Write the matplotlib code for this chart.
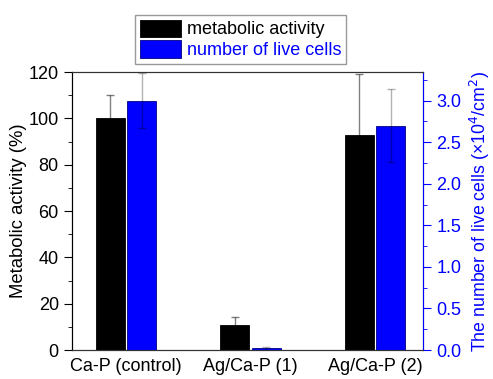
import numpy as np
import matplotlib
matplotlib.use('Agg')
from matplotlib import pyplot as plt
from matplotlib.ticker import MultipleLocator, FormatStrFormatter

plt.rcParams['font.family'] = ['Liberation Sans', 'DejaVu Sans']
plt.rcParams['font.size'] = 13

categories = ['Ca-P (control)', 'Ag/Ca-P (1)', 'Ag/Ca-P (2)']
activity = [100, 11, 93]
activity_err = [10, 3.3, 26]
live_cells = [3.0, 0.02, 2.7]
live_cells_err = [0.33, 0.02, 0.44]

x = np.arange(len(categories))
w = 0.233

fig = plt.figure(figsize=(4.93, 3.79), dpi=100)
ax = fig.add_axes([0.146, 0.0765, 0.712, 0.7335])
ax2 = ax.twinx()

b1 = ax.bar(x - 0.125, activity, w, color='black', edgecolor='black', linewidth=0.6,
            yerr=activity_err, error_kw=dict(ecolor=(0, 0, 0, 0.5), elinewidth=1, capsize=2.6, capthick=1))
b2 = ax2.bar(x + 0.125, live_cells, w, color='#0000ff', edgecolor='#000080', linewidth=0.6,
             yerr=live_cells_err, error_kw=dict(ecolor=(0, 0, 0, 0.3), elinewidth=1, capsize=2.6, capthick=1))

ax.set_xlim(-0.434, 2.386)
ax.set_ylim(0, 120)
ax2.set_ylim(0, 3.345)

ax.set_xticks(x)
ax.set_xticklabels(categories)
ax.tick_params(axis='x', length=0, pad=6)
ax.yaxis.set_major_locator(MultipleLocator(20))
ax.yaxis.set_minor_locator(MultipleLocator(10))
ax.tick_params(axis='y', which='major', length=6, direction='out')
ax.tick_params(axis='y', which='minor', length=3, direction='out')
ax.set_ylabel('Metabolic activity (%)', fontsize=13.3, labelpad=1)

ax2.yaxis.set_major_locator(MultipleLocator(0.5))
ax2.yaxis.set_minor_locator(MultipleLocator(0.25))
ax2.yaxis.set_major_formatter(FormatStrFormatter('%.1f'))
ax2.tick_params(axis='y', which='major', length=6, colors='#0000ff')
ax2.tick_params(axis='y', which='minor', length=3, colors='#0000ff')
ax2.spines['right'].set_color('#0000ff')
ax2.set_ylabel('The number of live cells (\u00d710$^4$/cm$^2$)', color='#0000ff',
               fontsize=12.8, labelpad=4.5)

for a in (ax, ax2):
    a.spines['top'].set_color('#333333')
    a.spines['bottom'].set_color('#333333')

leg = fig.legend([b1, b2], ['metabolic activity', 'number of live cells'],
                 loc='upper left', bbox_to_anchor=(0.274, 0.96), fancybox=False,
                 edgecolor='#999999', framealpha=1, fontsize=13, handlelength=2.27,
                 handleheight=1.1, handletextpad=0.35, borderpad=0.25, labelspacing=0.1,
                 borderaxespad=0)
leg.get_texts()[1].set_color('#0000ff')

fig.savefig('out.png', dpi=100)
